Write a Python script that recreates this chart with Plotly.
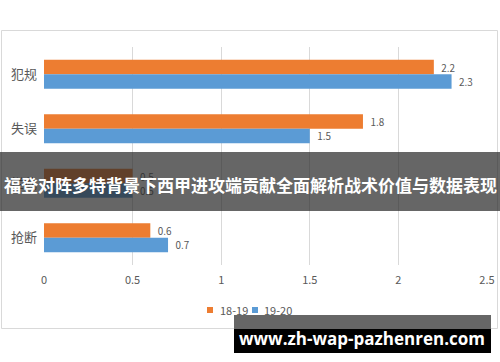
import plotly.graph_objects as go

categories = ["犯规", "失误", "拦截", "抢断"]
series_names = ["18-19", "19-20"]
series_colors = ["#ED7D31", "#5B9BD5"]
values_1819 = [2.2, 1.8, 0.5, 0.6]
values_1920 = [2.3, 1.5, 0.5, 0.7]
x_ticks = [0, 0.5, 1, 1.5, 2, 2.5]
x_tick_labels = ["0", "0.5", "1", "1.5", "2", "2.5"]
banner_text = "福登对阵多特背景下西甲进攻端贡献全面解析战术价值与数据表现"
watermark_text = "www.zh-wap-pazhenren.com"

W, H = 500, 362
FONT = "Noto Sans CJK SC, Microsoft YaHei, sans-serif"
GRAY = "#595959"

def px(x):
    return x / W

def py(y):
    return 1 - y / H

fig = go.Figure()
for name, vals, color in zip(series_names, [values_1819, values_1920], series_colors):
    fig.add_trace(go.Bar(
        y=categories, x=vals, name=name, orientation="h",
        marker=dict(color=color, line=dict(width=0)),
        text=["  " + str(v) for v in vals], textposition="outside",
        textfont=dict(family=FONT, size=11, color=GRAY),
        cliponaxis=False, showlegend=False,
    ))

fig.update_layout(
    width=W, height=H,
    margin=dict(l=0, r=0, t=0, b=0, pad=0, autoexpand=False),
    paper_bgcolor="white", plot_bgcolor="white",
    barmode="group", bargap=0.47, bargroupgap=0,
    font=dict(family=FONT, color=GRAY),
    xaxis=dict(domain=[px(44), px(487)], range=[0, 2.5], tickvals=x_ticks,
               ticktext=x_tick_labels, showgrid=True, gridcolor="#D9D9D9",
               gridwidth=1, zeroline=False, showline=False, ticks="",
               tickfont=dict(size=11, color=GRAY), ticklabelstandoff=7,
               automargin=False),
    yaxis=dict(domain=[py(265), py(47)], autorange="reversed", showgrid=False,
               showline=False, ticks="", tickfont=dict(size=13, color=GRAY),
               ticklabelstandoff=6, automargin=False),
    showlegend=False,
)

shapes = [
    dict(type="rect", xref="paper", yref="paper", x0=px(1.5), x1=px(497.5),
         y0=py(328.5), y1=py(30.5), line=dict(color="#D9D9D9", width=1),
         fillcolor="rgba(0,0,0,0)", layer="above"),
    dict(type="rect", xref="paper", yref="paper", x0=0, x1=1,
         y0=py(211), y1=py(152), line=dict(width=0),
         fillcolor="rgba(40,40,40,0.71)", layer="above"),
    dict(type="rect", xref="paper", yref="paper", x0=px(234), x1=px(491),
         y0=py(329), y1=py(315), line=dict(width=0),
         fillcolor="#666666", layer="above"),
    dict(type="rect", xref="paper", yref="paper", x0=px(234), x1=px(491),
         y0=py(353), y1=py(329), line=dict(width=0),
         fillcolor="#000000", layer="above"),
]

# custom legend (small squares + names)
legend_sq_x = [207, 252]
legend_txt_x = [218, 262]
for name, color, sx, tx in zip(series_names, series_colors, legend_sq_x, legend_txt_x):
    shapes.append(dict(type="rect", xref="paper", yref="paper",
                       x0=px(sx), x1=px(sx + 6), y0=py(313), y1=py(307),
                       line=dict(width=0), fillcolor=color, layer="above"))
    fig.add_annotation(text=name, xref="paper", yref="paper", x=px(tx), y=py(310),
                       xanchor="left", yanchor="middle", showarrow=False,
                       font=dict(family=FONT, size=11, color=GRAY))

fig.update_layout(shapes=shapes)

fig.add_annotation(text="<b>" + banner_text + "</b>", xref="paper", yref="paper",
                   x=0.5, y=py(184), xanchor="center", yanchor="middle",
                   showarrow=False,
                   font=dict(family="Noto Sans CJK SC", size=17, color="white"))
fig.add_annotation(text="<b>" + watermark_text + "</b>", xref="paper", yref="paper",
                   x=px(362), y=py(338), xanchor="center", yanchor="middle",
                   showarrow=False,
                   font=dict(family="Open Sans, DejaVu Sans", size=17, color="white"))

fig.write_html("out.html", config={"displayModeBar": False},
               post_script="document.body.style.margin='0px';")
